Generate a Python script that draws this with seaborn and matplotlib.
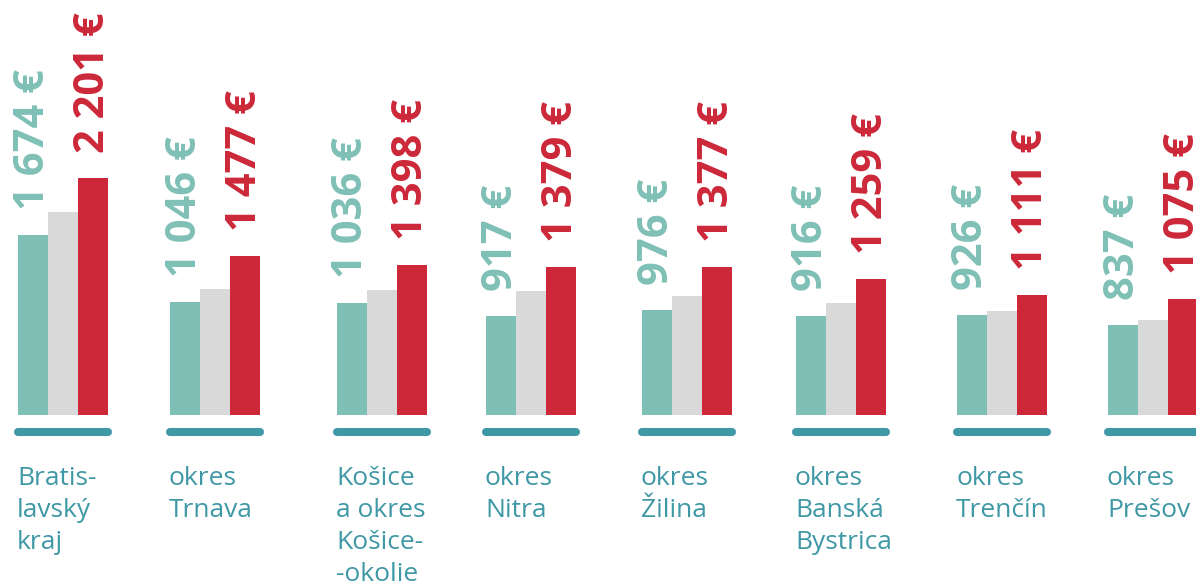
import numpy as np
import pandas as pd
import matplotlib
matplotlib.use("Agg")
import matplotlib.pyplot as plt
import seaborn as sns

# --- data -----------------------------------------------------------------
regions = [
    "Bratis-\nlavský\nkraj",
    "okres\nTrnava",
    "Košice\na okres\nKošice-\n-okolie",
    "okres\nNitra",
    "okres\nŽilina",
    "okres\nBanská\nBystrica",
    "okres\nTrenčín",
    "okres\nPrešov",
]
values_low = [1674, 1046, 1036, 917, 976, 916, 926, 837]
values_mid = [1886, 1171, 1161, 1152, 1106, 1040, 966, 883]
values_high = [2201, 1477, 1398, 1379, 1377, 1259, 1111, 1075]
series = ["low", "mid", "high"]

# --- layout ---------------------------------------------------------------
W, H = 1196, 583
group_centers = [63, 215, 382, 531, 687, 841, 1002, 1153]   # px from left
BAR_W = 30                                                 # px per bar
BASE_PX = 415                                              # baseline, px from top
EUR_PER_PX = 9.29

colors = {"low": "#7fc0b6", "mid": "#d9d9d9", "high": "#cc2839"}
accent = "#3f98a5"

sns.set_theme(style="white")
plt.rcParams["font.family"] = ["Open Sans", "DejaVu Sans"]

df = pd.DataFrame({
    "pos": np.repeat(group_centers, len(series)),
    "series": series * len(regions),
    "value": np.ravel(np.column_stack([values_low, values_mid, values_high])),
})

fig = plt.figure(figsize=(W / 100, H / 100), dpi=100)
ax = fig.add_axes([0, 0, 1, 1])

min_gap = np.min(np.diff(sorted(group_centers)))
sns.barplot(
    data=df, x="pos", y="value", hue="series", hue_order=series,
    palette=colors, native_scale=True, width=3 * BAR_W / min_gap,
    gap=0, errorbar=None, legend=False, linewidth=0, saturation=1, ax=ax,
)

def py_to_val(py):
    return (BASE_PX - py) * EUR_PER_PX

ax.set_xlim(0, W)
ax.set_ylim(py_to_val(H), py_to_val(0))
ax.axis("off")

# value labels over the first and last bar of each group
def fmt(v):
    return f"{v:,}".replace(",", " ") + " €"

for cont, vals, col in [(ax.containers[0], values_low, colors["low"]),
                        (ax.containers[2], values_high, colors["high"])]:
    ax.bar_label(cont, labels=[fmt(v) for v in vals], rotation=90,
                 padding=18, color=col, fontsize=30, fontweight="bold")

# rounded underline and region name for each group
for c, name in zip(group_centers, regions):
    left = c - 1.5 * BAR_W
    ax.plot([left, left + 3 * BAR_W], [py_to_val(432)] * 2, color=accent,
            lw=5.8, solid_capstyle="round")
    ax.text(left - 1, py_to_val(466), name, ha="left", va="top",
            color=accent, fontsize=19, linespacing=1.37)

fig.savefig("out.png", dpi=100)
